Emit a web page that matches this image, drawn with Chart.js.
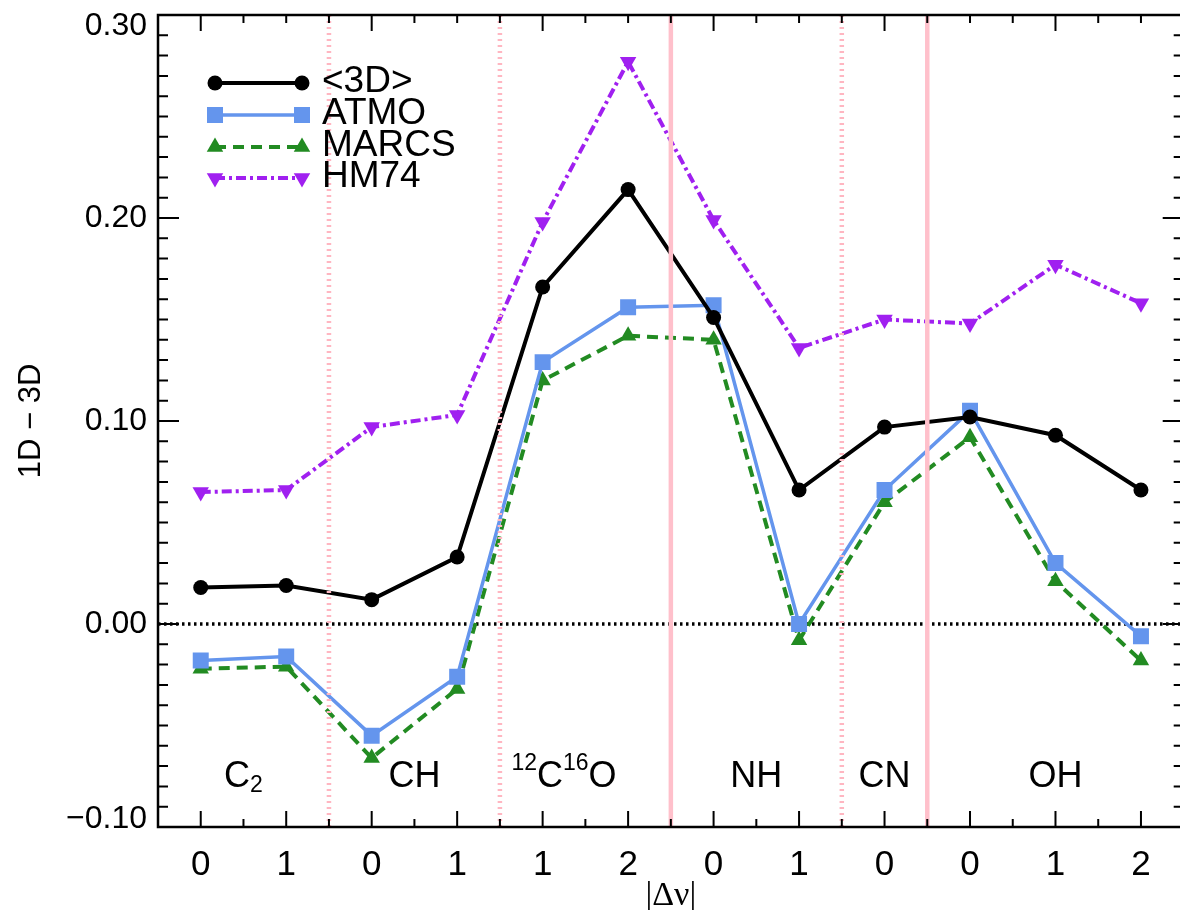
<!DOCTYPE html>
<html lang="en">
<head>
<meta charset="UTF-8">
<title>1D - 3D</title>
<script src="https://cdn.jsdelivr.net/npm/chart.js"></script>
<style>
    html, body {
        margin: 0;
        padding: 0;
        background: white;
        overflow: hidden;
    }
    .wrap {
        width: 1180px;
        height: 910px;
        overflow: hidden;
        position: relative;
    }
    canvas {
        position: absolute;
        left: 0;
        top: 0;
    }
</style>
</head>
<body>
<div class="wrap">
    <canvas id="chart" width="1195" height="910"></canvas>
</div>
<script>
// |delta v| labels along the x axis
const categories = ['0', '1', '0', '1', '1', '2', '0', '1', '0', '0', '1', '2'];

// 1D - 3D differences
const mean3D = [0.018, 0.019, 0.012, 0.033, 0.166, 0.214, 0.151, 0.066, 0.097, 0.102, 0.093, 0.066];
const atmo   = [-0.018, -0.016, -0.055, -0.026, 0.129, 0.156, 0.157, 0.000, 0.066, 0.105, 0.030, -0.006];
const marcs  = [-0.022, -0.021, -0.066, -0.032, 0.120, 0.142, 0.140, -0.008, 0.060, 0.092, 0.021, -0.018];
const hm74   = [0.065, 0.066, 0.097, 0.103, 0.198, 0.277, 0.199, 0.136, 0.150, 0.148, 0.177, 0.158];

const yTicks = [-0.10, 0.00, 0.10, 0.20, 0.30];

// molecule names and where they sit (category units)
const molecules = ['C_{2}', 'CH', '^{12}C^{16}O', 'NH', 'CN', 'OH'];
const moleculePos = [0.5, 2.5, 4.25, 6.5, 8, 10];

// separators between molecules
const dottedBounds = [1.5, 3.5, 7.5];
const solidBounds = [5.5, 8.5];

const FONT = '"Liberation Sans", Arial, Helvetica, sans-serif';

const seriesStyle = [
    {label: '<3D>',  data: mean3D, color: '#000000', dash: [], width: 4, point: 'circle', radius: 7.5, rot: 0},
    {label: 'ATMO',  data: atmo,   color: '#6495ED', dash: [], width: 3.5, point: 'rect', radius: 11.3, rot: 0},
    {label: 'MARCS', data: marcs,  color: '#228B22', dash: [11, 7], width: 4, point: 'triangle', radius: 9.5, rot: 0},
    {label: 'HM74',  data: hm74,   color: '#A020F0', dash: [10, 4, 3, 4], width: 4, point: 'triangle', radius: 9.5, rot: 180}
];

function drawMarker(ctx, s, x, y) {
    ctx.save();
    ctx.fillStyle = s.color;
    ctx.beginPath();
    if (s.point === 'circle') {
        ctx.arc(x, y, s.radius, 0, Math.PI * 2);
    } else if (s.point === 'rect') {
        const h = s.radius * Math.SQRT1_2;
        ctx.rect(x - h, y - h, 2 * h, 2 * h);
    } else {
        let rad = s.rot * Math.PI / 180;
        for (let k = 0; k < 3; k++) {
            const px = x + Math.sin(rad) * s.radius;
            const py = y - Math.cos(rad) * s.radius;
            if (k === 0) ctx.moveTo(px, py); else ctx.lineTo(px, py);
            rad += 2 * Math.PI / 3;
        }
        ctx.closePath();
    }
    ctx.fill();
    ctx.restore();
}

// split 'C_{2}' / '^{12}C^{16}O' into pieces
function parseRich(str) {
    const out = [];
    const re = /([_^])\{([^}]*)\}|([^_^]+)/g;
    let m;
    while ((m = re.exec(str)) !== null) {
        if (m[1]) out.push({t: m[2], kind: m[1] === '_' ? 'sub' : 'sup'});
        else out.push({t: m[3], kind: 'n'});
    }
    return out;
}

function drawRich(ctx, str, cx, baseY, size) {
    const parts = parseRich(str);
    const small = Math.round(size * 0.65);
    let total = 0;
    parts.forEach(p => {
        ctx.font = (p.kind === 'n' ? size : small) + 'px ' + FONT;
        p.w = ctx.measureText(p.t).width;
        total += p.w;
    });
    let x = cx - total / 2;
    ctx.textAlign = 'left';
    ctx.textBaseline = 'alphabetic';
    parts.forEach(p => {
        ctx.font = (p.kind === 'n' ? size : small) + 'px ' + FONT;
        let dy = 0;
        if (p.kind === 'sup') dy = -size * 0.48;
        if (p.kind === 'sub') dy = size * 0.15;
        ctx.fillText(p.t, x, baseY + dy);
        x += p.w;
    });
}

const decor = {
    id: 'decor',
    beforeDatasetsDraw(chart) {
        const {ctx, chartArea: a, scales: {y}} = chart;
        const y0 = y.getPixelForValue(0);
        ctx.save();
        ctx.strokeStyle = '#000';
        ctx.lineWidth = 3.5;
        ctx.setLineDash([2.5, 3.5]);
        ctx.beginPath();
        ctx.moveTo(a.left, y0);
        ctx.lineTo(a.right, y0);
        ctx.stroke();
        ctx.restore();
    },
    afterDatasetsDraw(chart) {
        const {ctx, chartArea: a, scales: {x, y}} = chart;
        ctx.save();

        // pink separators
        ctx.strokeStyle = '#FFB6C1';
        ctx.lineWidth = 4.5;
        ctx.setLineDash([2, 4]);
        dottedBounds.forEach(b => {
            const px = x.getPixelForValue(b);
            ctx.beginPath();
            ctx.moveTo(px, a.top);
            ctx.lineTo(px, a.bottom);
            ctx.stroke();
        });
        ctx.strokeStyle = '#FFC0CB';
        ctx.setLineDash([]);
        ctx.lineWidth = 4.5;
        solidBounds.forEach(b => {
            const px = x.getPixelForValue(b);
            ctx.beginPath();
            ctx.moveTo(px, a.top);
            ctx.lineTo(px, a.bottom);
            ctx.stroke();
        });

        // frame
        ctx.strokeStyle = '#000';
        ctx.lineWidth = 2.5;
        ctx.strokeRect(a.left, a.top, a.right - a.left, a.bottom - a.top);

        // ticks
        ctx.lineWidth = 2;
        ctx.beginPath();
        for (let i = 0; i < categories.length; i++) {
            for (const h of [0, 0.5]) {
                const v = i + h;
                if (v > categories.length - 1 + 0.4) continue;
                const px = x.getPixelForValue(v);
                const lenB = h === 0 ? 16 : 8;
                ctx.moveTo(px, a.bottom);
                ctx.lineTo(px, a.bottom - lenB);
                const lenT = (h === 0 && i % 2 === 0) ? 16 : 8;
                ctx.moveTo(px, a.top);
                ctx.lineTo(px, a.top + lenT);
            }
        }
        for (let k = -10; k <= 30; k++) {
            const py = y.getPixelForValue(k / 100);
            const len = k % 10 === 0 ? 21 : 10;
            ctx.moveTo(a.left, py);
            ctx.lineTo(a.left + len, py);
            ctx.moveTo(a.right, py);
            ctx.lineTo(a.right - len, py);
        }
        ctx.stroke();

        // y tick labels
        ctx.fillStyle = '#000';
        ctx.font = '32px ' + FONT;
        ctx.textAlign = 'right';
        ctx.textBaseline = 'middle';
        yTicks.forEach(v => {
            let py = y.getPixelForValue(v);
            py = Math.min(Math.max(py, a.top + 11), a.bottom - 8);
            const txt = (v < 0 ? '\u2212' : '') + Math.abs(v).toFixed(2);
            ctx.fillText(txt, a.left - 11, py);
        });

        // x tick labels
        ctx.font = '35px ' + FONT;
        ctx.textAlign = 'center';
        categories.forEach((c, i) => {
            ctx.fillText(c, x.getPixelForValue(i), a.bottom + 38);
        });

        // axis titles
        ctx.font = '34px "Liberation Serif", "DejaVu Serif", serif';
        ctx.fillText('|\u0394\u03BD|', (a.left + a.right) / 2, 896);
        ctx.save();
        ctx.translate(31, (a.top + a.bottom) / 2);
        ctx.rotate(-Math.PI / 2);
        ctx.font = '31px ' + FONT;
        ctx.fillText('1D \u2212 3D', 0, 0);
        ctx.restore();

        // molecule names
        ctx.fillStyle = '#000';
        molecules.forEach((m, i) => {
            drawRich(ctx, m, x.getPixelForValue(moleculePos[i]), 787, 36);
        });

        // legend
        const rows = [83, 115, 147, 178];
        seriesStyle.forEach((s, i) => {
            const ly = rows[i];
            ctx.save();
            ctx.strokeStyle = s.color;
            ctx.lineWidth = s.width;
            ctx.setLineDash(s.dash);
            ctx.beginPath();
            ctx.moveTo(215, ly);
            ctx.lineTo(302, ly);
            ctx.stroke();
            ctx.restore();
            drawMarker(ctx, s, 215, ly);
            drawMarker(ctx, s, 302, ly);
            ctx.fillStyle = '#000';
            ctx.font = '37px ' + FONT;
            ctx.textAlign = 'left';
            ctx.textBaseline = 'alphabetic';
            ctx.fillText(s.label, 322, ly + 9);
        });

        ctx.restore();
    }
};

new Chart(document.getElementById('chart'), {
    type: 'line',
    data: {
        labels: categories,
        datasets: seriesStyle.map(s => ({
            label: s.label,
            data: s.data,
            borderColor: s.color,
            backgroundColor: s.color,
            borderWidth: s.width,
            borderDash: s.dash,
            pointStyle: s.point,
            pointRadius: s.radius,
            pointRotation: s.rot,
            pointBorderWidth: 0,
            pointBackgroundColor: s.color,
            tension: 0,
            fill: false
        }))
    },
    options: {
        responsive: false,
        animation: false,
        devicePixelRatio: 1,
        layout: {padding: {left: 158, top: 15, right: 10, bottom: 83}},
        scales: {
            x: {type: 'category', offset: true, display: false},
            y: {min: -0.1, max: 0.3, display: false}
        },
        plugins: {legend: {display: false}, tooltip: {enabled: false}}
    },
    plugins: [decor]
});
</script>
</body>
</html>
